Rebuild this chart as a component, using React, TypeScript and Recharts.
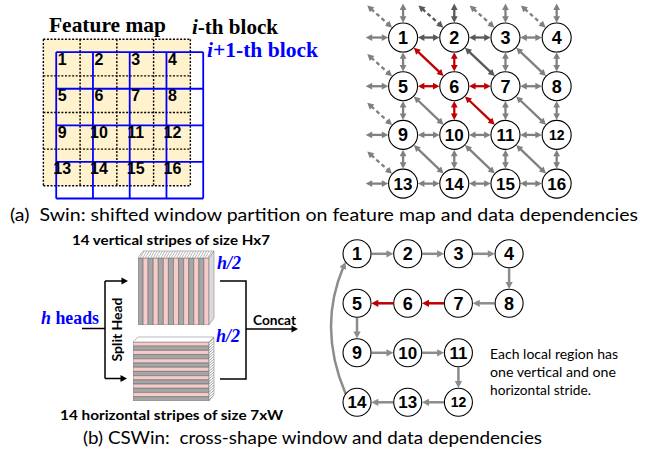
import React from "react";
import {
  ScatterChart, Scatter, XAxis, YAxis, ReferenceLine, ReferenceArea,
  BarChart, Bar, Cell,
} from "recharts";

// ---------------- data ----------------

// feature map: 4x4 window cells, numbered inside the shifted (i+1-th block) grid
const featureCells = [
  { label: "1", col: 0, row: 0 }, { label: "2", col: 1, row: 0 }, { label: "3", col: 2, row: 0 }, { label: "4", col: 3, row: 0 },
  { label: "5", col: 0, row: 1 }, { label: "6", col: 1, row: 1 }, { label: "7", col: 2, row: 1 }, { label: "8", col: 3, row: 1 },
  { label: "9", col: 0, row: 2 }, { label: "10", col: 1, row: 2 }, { label: "11", col: 2, row: 2 }, { label: "12", col: 3, row: 2 },
  { label: "13", col: 0, row: 3 }, { label: "14", col: 1, row: 3 }, { label: "15", col: 2, row: 3 }, { label: "16", col: 3, row: 3 },
];
const featureGridLines = [0, 1, 2, 3, 4];
const windowShift = 0.35;

// Swin dependency graph
const swinNodes = [
  { id: "1", col: 0, row: 0 }, { id: "2", col: 1, row: 0 }, { id: "3", col: 2, row: 0 }, { id: "4", col: 3, row: 0 },
  { id: "5", col: 0, row: 1 }, { id: "6", col: 1, row: 1 }, { id: "7", col: 2, row: 1 }, { id: "8", col: 3, row: 1 },
  { id: "9", col: 0, row: 2 }, { id: "10", col: 1, row: 2 }, { id: "11", col: 2, row: 2 }, { id: "12", col: 3, row: 2 },
  { id: "13", col: 0, row: 3 }, { id: "14", col: 1, row: 3 }, { id: "15", col: 2, row: 3 }, { id: "16", col: 3, row: 3 },
];
const swinEdges: [string, string][] = [
  ["1", "2"], ["2", "3"], ["3", "4"], ["5", "6"], ["6", "7"], ["7", "8"],
  ["9", "10"], ["10", "11"], ["11", "12"], ["13", "14"], ["14", "15"], ["15", "16"],
  ["1", "5"], ["2", "6"], ["3", "7"], ["4", "8"], ["5", "9"], ["6", "10"],
  ["7", "11"], ["8", "12"], ["9", "13"], ["10", "14"], ["11", "15"], ["12", "16"],
  ["1", "6"], ["2", "7"], ["3", "8"], ["5", "10"], ["6", "11"], ["7", "12"],
  ["9", "14"], ["10", "15"], ["11", "16"],
];
const swinLeftStubs = ["1", "5", "9", "13"];
const swinTopStubs = ["1", "2", "3", "4"];
const swinDiagStubs = ["1", "2", "3", "4", "5", "9", "13"];
const focusNode = "6";
const windowNode = "2";

// CSWin dependency graph
const cswinNodes = [
  { id: "1", col: 0, row: 0 }, { id: "2", col: 1, row: 0 }, { id: "3", col: 2, row: 0 }, { id: "4", col: 3, row: 0 },
  { id: "5", col: 0, row: 1 }, { id: "6", col: 1, row: 1 }, { id: "7", col: 2, row: 1 }, { id: "8", col: 3, row: 1 },
  { id: "9", col: 0, row: 2 }, { id: "10", col: 1, row: 2 }, { id: "11", col: 2, row: 2 },
  { id: "14", col: 0, row: 3 }, { id: "13", col: 1, row: 3 }, { id: "12", col: 2, row: 3 },
];
const cswinPath = ["1", "2", "3", "4", "8", "7", "6", "5", "9", "10", "11", "12", "13", "14"];
const cswinLoop: [string, string] = ["14", "1"];

// stripes of the two head groups
const verticalStripes = ["g", "p", "g", "p", "g", "p", "g", "p", "g", "p", "g", "p", "g", "p"];
const horizontalStripes = ["p", "g", "p", "g", "p", "g", "p", "g", "p", "g", "p", "g", "p", "g"];

// ---------------- styles ----------------

const C = {
  gray: "#808080",
  dark: "#595959",
  red: "#c00000",
  loopGray: "#8c8c8c",
  blue: "#0000ff",
  beige: "#fff2cc",
  stripeGray: "#a6a6a6",
  stripePink: "#f8cbcb",
};
const SANS = "Lato, 'Open Sans', sans-serif";
const SERIF = "'Liberation Serif', 'DejaVu Serif', serif";
const ARIAL = "'Liberation Sans', Arial, sans-serif";

type Frame = { x0: number; y0: number; colStep: number; rowStep: number; xDom: [number, number]; yDom: [number, number] };

const FEATURE: Frame = { x0: 43, y0: 39, colStep: 36.75, rowStep: 36.6, xDom: [-0.2, 4.5], yDom: [-0.2, 4.5] };
const SWIN: Frame = { x0: 402.6, y0: 37.2, colStep: 51.2, rowStep: 48.7, xDom: [-0.9, 3.4], yDom: [-0.75, 3.4] };
const CSWIN: Frame = { x0: 356.7, y0: 253.3, colStep: 50.7, rowStep: 49.5, xDom: [-0.75, 3.4], yDom: [-0.4, 3.4] };
const SWIN_R = 14.5;
const CSWIN_R = 14;

function frameBox(f: Frame) {
  return {
    left: f.x0 + f.xDom[0] * f.colStep,
    top: f.y0 + f.yDom[0] * f.rowStep,
    width: (f.xDom[1] - f.xDom[0]) * f.colStep,
    height: (f.yDom[1] - f.yDom[0]) * f.rowStep,
  };
}

type ArrowOpts = { color: string; width: number; head: number; dash?: string; both: boolean; trimA: number; trimB: number };

function headPoints(tx: number, ty: number, dx: number, dy: number, h: number) {
  const w = h * 0.52;
  const bx = tx - dx * h, by = ty - dy * h;
  return `${tx},${ty} ${bx - dy * w},${by + dx * w} ${bx + dy * w},${by - dx * w}`;
}

function makeArrow(o: ArrowOpts) {
  return (p: any) => {
    const dx = p.x2 - p.x1, dy = p.y2 - p.y1;
    const len = Math.hypot(dx, dy) || 1;
    const ux = dx / len, uy = dy / len;
    const ax = p.x1 + ux * o.trimA, ay = p.y1 + uy * o.trimA;
    const bx = p.x2 - ux * o.trimB, by = p.y2 - uy * o.trimB;
    const sa = o.both ? o.head * 0.8 : 0;
    const sb = o.head * 0.8;
    return (
      <g>
        <line x1={ax + ux * sa} y1={ay + uy * sa} x2={bx - ux * sb} y2={by - uy * sb}
          stroke={o.color} strokeWidth={o.width} strokeDasharray={o.dash} />
        <polygon points={headPoints(bx, by, ux, uy, o.head)} fill={o.color} />
        {o.both && <polygon points={headPoints(ax, ay, -ux, -uy, o.head)} fill={o.color} />}
      </g>
    );
  };
}

const loopShape = (p: any) => {
  const r = CSWIN_R;
  const s = { x: p.x1 - 0.81 * r, y: p.y1 - 0.59 * r };
  const e = { x: p.x2 - 0.82 * r, y: p.y2 + 0.58 * r };
  const c = { x: Math.min(s.x, e.x) - 28, y: (s.y + e.y) / 2 };
  const dx = e.x - c.x, dy = e.y - c.y;
  const L = Math.hypot(dx, dy);
  const ux = dx / L, uy = dy / L;
  const h = 7;
  const ee = { x: e.x - ux * h * 0.8, y: e.y - uy * h * 0.8 };
  return (
    <g>
      <path d={`M${s.x},${s.y} Q${c.x},${c.y} ${ee.x},${ee.y}`} fill="none" stroke={C.loopGray} strokeWidth={2.5} />
      <polygon points={headPoints(e.x, e.y, ux, uy, h)} fill={C.loopGray} />
    </g>
  );
};

function labelSize(label: string) {
  if (label === "12") return 14;
  return label.length > 1 ? 17 : 18;
}

function nodeShape(r: number) {
  return (p: any) => {
    const fs = labelSize(p.payload.id);
    return (
      <g>
        <circle cx={p.cx} cy={p.cy} r={r} fill="#fff" stroke="#000" strokeWidth={1.1} />
        <text x={p.cx} y={p.cy + fs * 0.36} textAnchor="middle" fontFamily={ARIAL} fontWeight="bold" fontSize={fs} fill="#000">
          {p.payload.id}
        </text>
      </g>
    );
  };
}

const cellLabelShape = (p: any) => (
  <text x={p.cx + 6} y={p.cy + 12.5} textAnchor="middle" fontFamily={ARIAL} fontWeight="bold" fontSize={16} fill="#000">
    {p.payload.label}
  </text>
);

function FrameChart({ frame, data, shape, shift = 0, children }: { frame: Frame; data: any[]; shape: any; shift?: number; children?: React.ReactNode }) {
  const box = frameBox(frame);
  return (
    <div style={{ position: "absolute", left: box.left, top: box.top }}>
      <ScatterChart width={box.width} height={box.height} margin={{ top: 0, right: 0, bottom: 0, left: 0 }}>
        <XAxis type="number" dataKey={(d: any) => d.col + shift} domain={frame.xDom} allowDataOverflow hide />
        <YAxis type="number" dataKey={(d: any) => d.row + shift} domain={frame.yDom} allowDataOverflow reversed hide />
        {children}
        <Scatter data={data} shape={shape} isAnimationActive={false} />
      </ScatterChart>
    </div>
  );
}

const findNode = (nodes: { id: string; col: number; row: number }[], id: string) => nodes.find((n) => n.id === id)!;

const swinColor = (a: string, b: string) =>
  a === focusNode || b === focusNode ? C.red : a === windowNode || b === windowNode ? C.dark : C.gray;

export default function App() {
  const fmLo = featureGridLines[0];
  const fmHi = featureGridLines[featureGridLines.length - 1];

  const swinArrow = (color: string, dashed = false, outer = false) =>
    makeArrow({ color, width: 2.3, head: 6.5, both: true, dash: dashed ? "4 3" : undefined, trimA: outer ? 0 : SWIN_R + 0.3, trimB: SWIN_R + 0.3 });

  return (
    <div style={{ position: "absolute", left: 0, top: 0, width: 650, height: 457, background: "#fff", overflow: "hidden" }}>
      {/* feature map with the shifted window grid */}
      <FrameChart frame={FEATURE} data={featureCells} shape={cellLabelShape} shift={windowShift}>
        <ReferenceArea x1={fmLo} x2={fmHi} y1={fmLo} y2={fmHi} fill={C.beige} fillOpacity={1} stroke="none" ifOverflow="visible" />
        {featureGridLines.map((v) => (
          <ReferenceLine key={`dx${v}`} segment={[{ x: v, y: fmLo }, { x: v, y: fmHi }]} stroke="#000" strokeWidth={1.4} strokeDasharray="2 1.6" ifOverflow="visible" />
        ))}
        {featureGridLines.map((v) => (
          <ReferenceLine key={`dy${v}`} segment={[{ x: fmLo, y: v }, { x: fmHi, y: v }]} stroke="#000" strokeWidth={1.4} strokeDasharray="2 1.6" ifOverflow="visible" />
        ))}
        {featureGridLines.map((v) => (
          <ReferenceLine key={`bx${v}`} segment={[{ x: v + windowShift, y: fmLo + windowShift }, { x: v + windowShift, y: fmHi + windowShift }]} stroke={C.blue} strokeWidth={1.8} ifOverflow="visible" />
        ))}
        {featureGridLines.map((v) => (
          <ReferenceLine key={`by${v}`} segment={[{ x: fmLo + windowShift, y: v + windowShift }, { x: fmHi + windowShift, y: v + windowShift }]} stroke={C.blue} strokeWidth={1.8} ifOverflow="visible" />
        ))}
      </FrameChart>

      {/* Swin data dependencies */}
      <FrameChart frame={SWIN} data={swinNodes} shape={nodeShape(SWIN_R)}>
        {swinEdges.map(([a, b]) => {
          const na = findNode(swinNodes, a), nb = findNode(swinNodes, b);
          return (
            <ReferenceLine key={`e${a}-${b}`} segment={[{ x: na.col, y: na.row }, { x: nb.col, y: nb.row }]} ifOverflow="visible" shape={swinArrow(swinColor(a, b))} />
          );
        })}
        {swinLeftStubs.map((id) => {
          const n = findNode(swinNodes, id);
          return <ReferenceLine key={`l${id}`} segment={[{ x: n.col - 0.73, y: n.row }, { x: n.col, y: n.row }]} ifOverflow="visible" shape={swinArrow(swinColor(id, id), false, true)} />;
        })}
        {swinTopStubs.map((id) => {
          const n = findNode(swinNodes, id);
          return <ReferenceLine key={`t${id}`} segment={[{ x: n.col, y: n.row - 0.7 }, { x: n.col, y: n.row }]} ifOverflow="visible" shape={swinArrow(swinColor(id, id), false, true)} />;
        })}
        {swinDiagStubs.map((id) => {
          const n = findNode(swinNodes, id);
          return <ReferenceLine key={`d${id}`} segment={[{ x: n.col - 0.7, y: n.row - 0.66 }, { x: n.col, y: n.row }]} ifOverflow="visible" shape={swinArrow(swinColor(id, id), true, true)} />;
        })}
      </FrameChart>

      {/* CSWin data dependencies */}
      <FrameChart frame={CSWIN} data={cswinNodes} shape={nodeShape(CSWIN_R)}>
        {cswinPath.slice(1).map((b, i) => {
          const a = cswinPath[i];
          const na = findNode(cswinNodes, a), nb = findNode(cswinNodes, b);
          const color = a === focusNode || b === focusNode ? C.red : C.loopGray;
          return (
            <ReferenceLine key={`c${a}-${b}`} segment={[{ x: na.col, y: na.row }, { x: nb.col, y: nb.row }]} ifOverflow="visible"
              shape={makeArrow({ color, width: 2.5, head: 7, both: false, trimA: CSWIN_R + 0.5, trimB: CSWIN_R + 0.3 })} />
          );
        })}
        {(() => {
          const na = findNode(cswinNodes, cswinLoop[0]), nb = findNode(cswinNodes, cswinLoop[1]);
          return <ReferenceLine segment={[{ x: na.col, y: na.row }, { x: nb.col, y: nb.row }]} ifOverflow="visible" shape={loopShape} />;
        })()}
      </FrameChart>

      {/* head groups: vertical and horizontal stripes */}
      <div style={{ position: "absolute", left: 138, top: 258 }}>
        <BarChart width={71} height={67} data={verticalStripes.map((k, i) => ({ i, v: 1, k }))} margin={{ top: 0, right: 0, bottom: 0, left: 0 }} barCategoryGap={0}>
          <XAxis dataKey="i" hide />
          <YAxis domain={[0, 1]} hide />
          <Bar dataKey="v" isAnimationActive={false} stroke="#6f6f6f" strokeWidth={0.6}>
            {verticalStripes.map((k, i) => <Cell key={i} fill={k === "g" ? C.stripeGray : C.stripePink} />)}
          </Bar>
        </BarChart>
      </div>
      <div style={{ position: "absolute", left: 133, top: 342 }}>
        <BarChart layout="vertical" width={76} height={59} data={horizontalStripes.map((k, i) => ({ i, v: 1, k }))} margin={{ top: 0, right: 0, bottom: 0, left: 0 }} barCategoryGap={0}>
          <XAxis type="number" domain={[0, 1]} hide />
          <YAxis type="category" dataKey="i" hide />
          <Bar dataKey="v" isAnimationActive={false} stroke="#6f6f6f" strokeWidth={0.6}>
            {horizontalStripes.map((k, i) => <Cell key={i} fill={k === "g" ? C.stripeGray : C.stripePink} />)}
          </Bar>
        </BarChart>
      </div>

      {/* annotations, block faces and connectors */}
      <svg width={650} height={457} style={{ position: "absolute", left: 0, top: 0, pointerEvents: "none" }}>
        <defs>
          <pattern id="hatch" width="2.6" height="6" patternUnits="userSpaceOnUse" patternTransform="skewX(-30)">
            <rect width="2.6" height="6" fill="#fff" />
            <line x1="0.5" y1="0" x2="0.5" y2="6" stroke="#9a9a9a" strokeWidth="0.7" />
          </pattern>
          <pattern id="hatch2" width="6" height="2.6" patternUnits="userSpaceOnUse" patternTransform="skewY(-40)">
            <rect width="6" height="2.6" fill="#fff" />
            <line x1="0" y1="0.5" x2="6" y2="0.5" stroke="#8a8a8a" strokeWidth="0.7" />
          </pattern>
        </defs>

        {/* block faces */}
        <polygon points="138,258 209,258 214,251 143,251" fill="url(#hatch)" stroke="#8a8a8a" strokeWidth={0.6} />
        <polygon points="209,258 214,251 214,318 209,325" fill="#dadada" stroke="#8a8a8a" strokeWidth={0.6} />
        <polygon points="133,342 209,342 214,337 138,337" fill="#fff" stroke="#8a8a8a" strokeWidth={0.6} />
        <polygon points="209,342 214,337 214,395 209,401" fill="url(#hatch2)" stroke="#8a8a8a" strokeWidth={0.6} />

        {/* split head / concat connectors */}
        <g stroke="#000" strokeWidth={1.5} fill="none">
          <path d="M82,328.5 H105 M105,281 V378.5 M105,281 H122 M105,378.5 H121" />
          <path d="M220,281 H246 V379 H220 M246,329 H292" />
        </g>
        <polygon points={headPoints(128, 281, 1, 0, 6.5)} fill="#000" />
        <polygon points={headPoints(127, 378.5, 1, 0, 6.5)} fill="#000" />
        <polygon points={headPoints(298, 329, 1, 0, 6.5)} fill="#000" />

        {/* panel (a) titles */}
        <text x={49} y={32} fontFamily={SERIF} fontWeight="bold" fontSize={21} textLength={117} lengthAdjust="spacingAndGlyphs" fill="#000">Feature map</text>
        <text x={192} y={34} fontFamily={SERIF} fontWeight="bold" fontSize={21} textLength={86} lengthAdjust="spacingAndGlyphs" fill="#000">
          <tspan fontStyle="italic">i</tspan>-th block
        </text>
        <text x={207} y={56.5} fontFamily={SERIF} fontWeight="bold" fontSize={21} textLength={111} lengthAdjust="spacingAndGlyphs" fill={C.blue}>
          <tspan fontStyle="italic">i</tspan>+1-th block
        </text>
        <text x={10} y={220.5} fontFamily={SANS} fontSize={17} textLength={628} lengthAdjust="spacingAndGlyphs" fill="#000" style={{ whiteSpace: "pre" }}>
          (a)  Swin: shifted window partition on feature map and data dependencies
        </text>

        {/* panel (b) */}
        <text x={72} y={245} fontFamily={SANS} fontWeight="bold" fontSize={13} textLength={198} lengthAdjust="spacingAndGlyphs" fill="#000">14 vertical stripes of size Hx7</text>
        <text x={60} y={420} fontFamily={SANS} fontWeight="bold" fontSize={13} textLength={223} lengthAdjust="spacingAndGlyphs" fill="#000">14 horizontal stripes of size 7xW</text>
        <text x={217} y={269} fontFamily={SERIF} fontWeight="bold" fontStyle="italic" fontSize={18} fill={C.blue}>h/2</text>
        <text x={216} y={342} fontFamily={SERIF} fontWeight="bold" fontStyle="italic" fontSize={18} fill={C.blue}>h/2</text>
        <text x={41} y={324} fontFamily={SERIF} fontWeight="bold" fontSize={18} textLength={58} lengthAdjust="spacingAndGlyphs" fill={C.blue}>
          <tspan fontStyle="italic">h</tspan> heads
        </text>
        <text x={0} y={0} transform="translate(121.5,329.5) rotate(-90)" textAnchor="middle" fontFamily={SANS} fontWeight="bold" fontSize={13} textLength={64} lengthAdjust="spacingAndGlyphs" fill="#000">Split Head</text>
        <text x={253} y={325} fontFamily={SANS} fontWeight="bold" fontSize={13} textLength={43} lengthAdjust="spacingAndGlyphs" fill="#000">Concat</text>
        <text x={490} y={359} fontFamily={SANS} fontSize={13} textLength={128} lengthAdjust="spacingAndGlyphs" fill="#000">Each local region has</text>
        <text x={490} y={377} fontFamily={SANS} fontSize={13} textLength={126} lengthAdjust="spacingAndGlyphs" fill="#000">one vertical and one</text>
        <text x={490} y={395} fontFamily={SANS} fontSize={13} textLength={101} lengthAdjust="spacingAndGlyphs" fill="#000">horizontal stride.</text>
        <text x={83} y={444} fontFamily={SANS} fontSize={17} textLength={459} lengthAdjust="spacingAndGlyphs" fill="#000" style={{ whiteSpace: "pre" }}>
          (b) CSWin:  cross-shape window and data dependencies
        </text>
      </svg>
    </div>
  );
}
